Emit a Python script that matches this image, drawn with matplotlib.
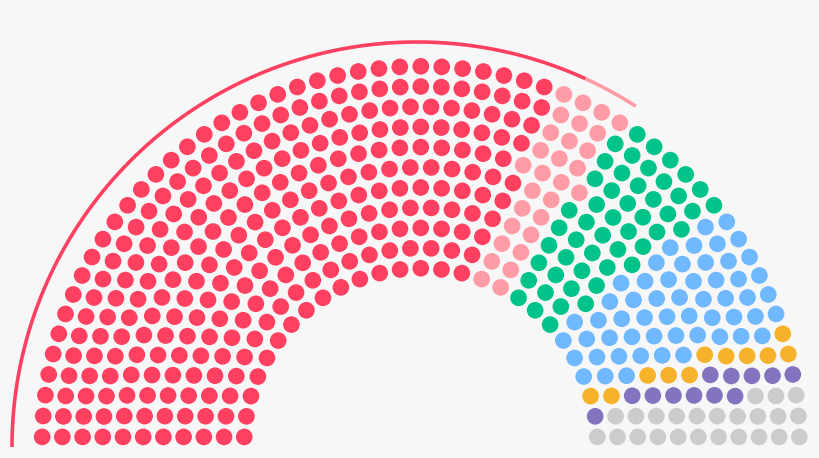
import numpy as np
import matplotlib.pyplot as plt
from matplotlib.patches import Circle

# seats per group, left to right
parties = ['LDP', 'Komeito', 'Kibo', 'CDP', 'Ishin', 'JCP', 'Others']
seats = [284, 29, 50, 55, 11, 12, 24]
colors = ['#ff4060', '#ff9ca6', '#00c389', '#70b8ff', '#f5b22a', '#8474c0', '#cccccc']
# outer arc over the governing groups (extent, in seats)
arc_parties = ['LDP', 'Komeito']
arc_seats = [296, 21]

total = sum(seats)
totals = [3, 15, 33, 61, 95, 138, 189, 247, 313, 388, 469, 559, 657]
rows = next(i + 1 for i, t in enumerate(totals) if t >= total)
dot_r = 0.4 / rows

# seat positions (angle, radius), row by row
pos = []
placed = 0
for i in range(1, rows + 1):
    R = (3.0 * rows + 4.0 * i - 2.0) / (4.0 * rows)
    if i == rows:
        J = total - placed
    else:
        J = int(total / totals[rows - 1] * np.pi / (2 * np.arcsin(2.0 / (3.0 * rows + 4.0 * i - 2.0))))
    placed += J
    off = np.sin(dot_r / R)
    for j in range(J):
        a = j * (np.pi - 2 * off) / (J - 1) + off
        pos.append((a, R))
pos.sort(reverse=True)

fig = plt.figure(figsize=(8.2, 4.58), dpi=100)
fig.patch.set_facecolor('#f7f7f7')
ax = fig.add_axes([0, 0, 1, 1])
ax.set_facecolor('#f7f7f7')

k = 0
for name, n, c in zip(parties, seats, colors):
    for a, R in pos[k:k + n]:
        ax.add_patch(Circle((R * np.cos(a), R * np.sin(a)), dot_r * 1.03, color=c, lw=0))
    k += n

# outer arc
arc_R = 1.823
cx, cy = -0.017, -0.009
start = 0
for name, n in zip(arc_parties, arc_seats):
    c = colors[parties.index(name)]
    t = np.linspace(np.pi * (1 - start / total), np.pi * (1 - (start + n) / total), 200)
    ax.plot(cx + arc_R * np.cos(t), cy + arc_R * np.sin(t), color=c, lw=2.6,
            solid_capstyle='butt')
    start += n

ax.set_xlim(-1.894, 1.797)
ax.set_ylim(-0.0585, 2.003)
ax.set_aspect('equal')
ax.axis('off')

fig.savefig('out.png', dpi=100, facecolor=fig.get_facecolor())
